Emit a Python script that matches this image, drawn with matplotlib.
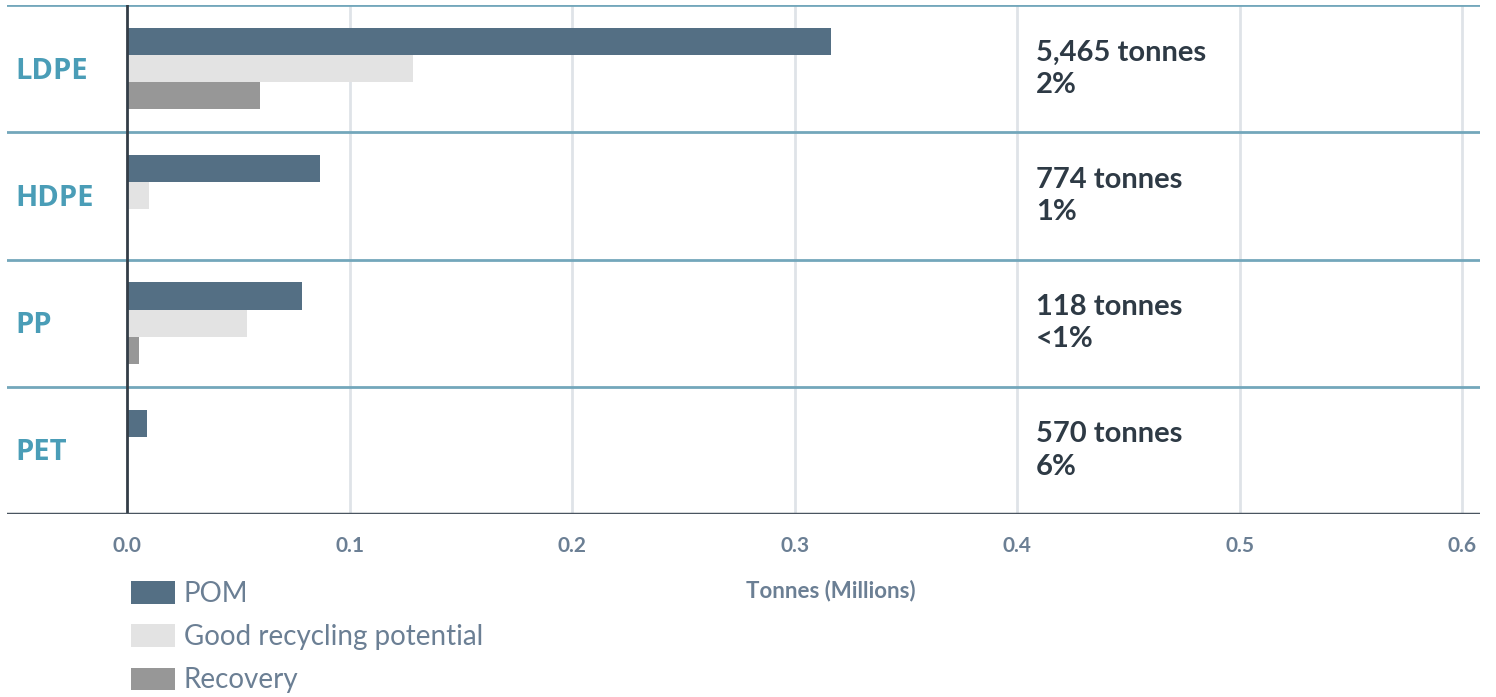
import matplotlib.pyplot as plt
from matplotlib.patches import Patch
from matplotlib.transforms import blended_transform_factory

plt.rcParams['font.family'] = ['Lato', 'DejaVu Sans']

# Tonnes (millions) per polymer
polymers = ['LDPE', 'HDPE', 'PP', 'PET']
pom = [0.3164, 0.0867, 0.0787, 0.0090]
good_recycling = [0.1285, 0.0099, 0.0539, 0.0]
recovery = [0.0598, 0.0, 0.0054, 0.0]
notes = ['5,465 tonnes\n2%', '774 tonnes\n1%', '118 tonnes\n<1%', '570 tonnes\n6%']

series = ['POM', 'Good recycling potential', 'Recovery']
colors = ['#546f84', '#e3e3e3', '#979797']

teal = '#4a9db7'
axis_grey = '#6b7f94'
text_dark = '#2e3a45'

fig = plt.figure(figsize=(14.96, 6.97), dpi=100)
ax = fig.add_axes([7 / 1496, 1 - 514 / 697, 1473 / 1496, 509 / 697])

h = 0.213
for i, name in enumerate(polymers):
    vals = [pom[i], good_recycling[i], recovery[i]]
    for k, v in enumerate(vals):
        if v > 0:
            ax.barh(i + (k - 1) * h, v, height=h, color=colors[k], zorder=3)

ax.set_xlim(-0.054, 0.608)
ax.set_ylim(len(polymers) - 0.5, -0.5)

# vertical grid and zero line
for x in [0.1, 0.2, 0.3, 0.4, 0.5, 0.6]:
    ax.axvline(x, color='#dfe3e8', lw=2, zorder=1)
ax.axvline(0, color='#333d47', lw=2, zorder=4)

# row separators
for y in [-0.5, 0.5, 1.5, 2.5]:
    ax.axhline(y, color='#73a7bb', lw=2, zorder=2)
ax.axhline(len(polymers) - 0.5, color='#4a5560', lw=2.5, zorder=5)

for s in ax.spines.values():
    s.set_visible(False)

ax.set_yticks([])
ax.set_xticks([0.0, 0.1, 0.2, 0.3, 0.4, 0.5, 0.6])
ax.set_xticklabels(['0.0', '0.1', '0.2', '0.3', '0.4', '0.5', '0.6'])
ax.tick_params(axis='x', length=0, pad=16, labelsize=15, labelcolor=axis_grey)
for lbl in ax.get_xticklabels():
    lbl.set_fontweight('bold')

ax.set_xlabel('Tonnes (Millions)', fontsize=16, color=axis_grey, fontweight='bold',
              va='center')
ax.xaxis.set_label_coords(0.559, -0.151)

trans = blended_transform_factory(ax.transAxes, ax.transData)
for i, name in enumerate(polymers):
    ax.text(8 / 1473, i + 0.02, name, transform=trans, ha='left', va='center',
            fontsize=21, fontweight='bold', color=teal,
            family=['Open Sans', 'DejaVu Sans'])
    ax.text(0.4085, i, notes[i], ha='left', va='center', fontsize=21,
            fontweight='bold', color=text_dark, linespacing=1.3)

handles = [Patch(facecolor=c, edgecolor='none') for c in colors]
fig.legend(handles, series, loc='upper left', bbox_to_anchor=(131 / 1496, 1 - 581 / 697),
           frameon=False, fontsize=20, labelcolor=axis_grey,
           borderpad=0, borderaxespad=0,
           handlelength=1.58, handleheight=0.86, handletextpad=0.32, labelspacing=0.62)

fig.savefig('out.png', dpi=100)
